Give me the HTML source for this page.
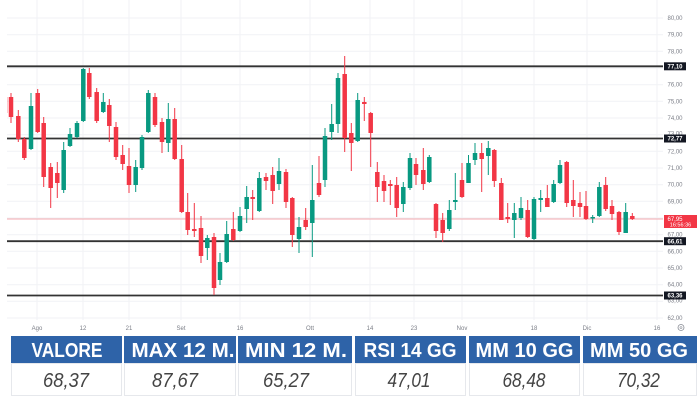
<!DOCTYPE html>
<html><head><meta charset="utf-8"><style>
html,body{margin:0;padding:0;background:#fff;}
svg{display:block;}
</style></head><body>
<svg width="700" height="400" viewBox="0 0 700 400" xmlns="http://www.w3.org/2000/svg">
<rect width="700" height="400" fill="#fff"/>
<defs><clipPath id="cp"><rect x="7" y="0" width="656" height="325"/></clipPath></defs>
<g stroke="#f1f2f5" stroke-width="1">
<path d="M37 0V320M83 0V320M129 0V320M181 0V320M240 0V320M310 0V320M370 0V320M414 0V320M462 0V320M534 0V320M587 0V320M657 0V320"/>
<path d="M7 18H663M7 34.7H663M7 51.3H663M7 68H663M7 84.7H663M7 101.3H663M7 118H663M7 134.7H663M7 151.3H663M7 168H663M7 184.7H663M7 201.3H663M7 218H663M7 234.7H663M7 251.3H663M7 268H663M7 284.7H663M7 301.3H663M7 318H663"/>
</g>
<path d="M7 219H663" stroke="#f4a9b0" stroke-width="1"/>
<path d="M7 66.3H663M7 138.5H663M7 241.2H663M7 295.5H663" stroke="#333" stroke-width="1.8"/>
<g clip-path="url(#cp)">
<path fill="none" stroke="#F23645" stroke-width="1" d="M5 95V116M11 93V123M18.3 110V142M24.3 137V160M37.7 89V133M43.7 117V187M50.7 163V208M57.3 162V198M89.3 68V99M96.7 88V123M109.3 99V142M116 122V160M122.7 145V170M129 148V193M155 93V127M162 118V153M174.7 108V160M181.7 145V213M187.7 193V235M194.3 203V237M201 216V263M214 233V295M233.3 212V241M252.7 190V220M266 173V190M272.7 167V204M286 169V208M292.3 197V247M305.7 208V230M319 156V197M344.7 56V152M351.3 123V171M364.3 97V121M370.7 112V167M377.3 162V202M384 175V202M390.3 180V205M396.7 177V217M416 158V185M423.3 148V190M436 203V238M442.7 213V242M462 163V198M481.7 143V192M494.3 149V187M501.3 178V220M507.7 203V223M527.7 200V238M547.3 185V207M566.7 161V207M573.3 180V217M580 192V217M586 191V220M605.7 177V211M612 200V220M619 211V235M632.3 213V220"/>
<path fill="#F23645" d="M2.75 97h4.5v16h-4.5zM8.75 97h4.5v20h-4.5zM16.05 116h4.5v23h-4.5zM22.05 139h4.5v19h-4.5zM35.45 93h4.5v39h-4.5zM41.45 123h4.5v54h-4.5zM48.45 167h4.5v21h-4.5zM55.05 173h4.5v10h-4.5zM87.05 73h4.5v24h-4.5zM94.45 92h4.5v29h-4.5zM107.05 105h4.5v21h-4.5zM113.75 127h4.5v30h-4.5zM120.45 155h4.5v9h-4.5zM126.75 166h4.5v19h-4.5zM152.75 97h4.5v28h-4.5zM159.75 122h4.5v20h-4.5zM172.45 119h4.5v40h-4.5zM179.45 159h4.5v53h-4.5zM185.45 212h4.5v18h-4.5zM192.05 229h4.5v2h-4.5zM198.75 228h4.5v28h-4.5zM211.75 237h4.5v51h-4.5zM231.05 229h4.5v11h-4.5zM250.45 197h4.5v2h-4.5zM263.75 177h4.5v4h-4.5zM270.45 175h4.5v16h-4.5zM283.75 172h4.5v30h-4.5zM290.05 198h4.5v37h-4.5zM303.45 220h4.5v7h-4.5zM316.75 183h4.5v12h-4.5zM342.45 74h4.5v64h-4.5zM349.05 133h4.5v10h-4.5zM362.05 102h4.5v2h-4.5zM368.45 113h4.5v20h-4.5zM375.05 172h4.5v15h-4.5zM381.75 181h4.5v10h-4.5zM388.05 184h4.5v2h-4.5zM394.45 185h4.5v23h-4.5zM413.75 164h4.5v11h-4.5zM421.05 170h4.5v14h-4.5zM433.75 204h4.5v27h-4.5zM440.45 220h4.5v13h-4.5zM459.75 180h4.5v17h-4.5zM479.45 153h4.5v6h-4.5zM492.05 150h4.5v31h-4.5zM499.05 183h4.5v37h-4.5zM505.45 217h4.5v2h-4.5zM525.45 210h4.5v27h-4.5zM545.05 198h4.5v9h-4.5zM564.45 162h4.5v41h-4.5zM571.05 200h4.5v6h-4.5zM577.75 203h4.5v4h-4.5zM583.75 206h4.5v13h-4.5zM603.45 185h4.5v24h-4.5zM609.75 206h4.5v8h-4.5zM616.75 212h4.5v20h-4.5zM630.05 216h4.5v3h-4.5z"/>
<path fill="none" stroke="#089981" stroke-width="1" d="M31 93V150M63.7 142V193M70 128V147M77 121V138M83.3 68V122M103.3 93V113M135.7 160V192M142 135V170M148.3 90V133M168.3 103V152M207.3 235V260M220 253V285M226.7 221V263M240 207V232M246.7 186V223M259.3 172V212M279 158V190M299 217V253M312.3 165V257M325 128V187M331.7 104V140M338 73V133M357.7 93V142M403.3 182V212M410 153V190M429.3 155V183M449.3 200V231M455.3 173V210M468.5 155V183M475 143V165M488.3 141V175M514.3 203V238M521 197V220M534 197V240M540.7 190V212M553.7 180V203M560 160V184M592.7 215V223M599.3 182V217M625.7 203V233"/>
<path fill="#089981" d="M28.75 106h4.5v43h-4.5zM61.45 150h4.5v40h-4.5zM67.75 134h4.5v12h-4.5zM74.75 123h4.5v14h-4.5zM81.05 69h4.5v52h-4.5zM101.05 102h4.5v10h-4.5zM133.45 167h4.5v18h-4.5zM139.75 137h4.5v31h-4.5zM146.05 93h4.5v39h-4.5zM166.05 119h4.5v24h-4.5zM205.05 238h4.5v10h-4.5zM217.75 262h4.5v18h-4.5zM224.45 234h4.5v28h-4.5zM237.75 216h4.5v15h-4.5zM244.45 197h4.5v12h-4.5zM257.05 178h4.5v33h-4.5zM276.75 171h4.5v13h-4.5zM296.75 227h4.5v12h-4.5zM310.05 200h4.5v23h-4.5zM322.75 136h4.5v44h-4.5zM329.45 124h4.5v8h-4.5zM335.75 78h4.5v46h-4.5zM355.45 100h4.5v41h-4.5zM401.05 187h4.5v17h-4.5zM407.75 158h4.5v30h-4.5zM427.05 157h4.5v25h-4.5zM447.05 210h4.5v19h-4.5zM453.05 200h4.5v2h-4.5zM466.25 163h4.5v20h-4.5zM472.75 153h4.5v7h-4.5zM486.05 148h4.5v8h-4.5zM512.05 213h4.5v7h-4.5zM518.75 208h4.5v10h-4.5zM531.75 199h4.5v40h-4.5zM538.45 198h4.5v2h-4.5zM551.45 184h4.5v18h-4.5zM557.75 165h4.5v18h-4.5zM590.45 217h4.5v1.5h-4.5zM597.05 187h4.5v29h-4.5zM623.45 212h4.5v21h-4.5z"/>
</g>
<g font-family="Liberation Sans, sans-serif" font-size="6" fill="#7b7e87" text-anchor="middle">
<text x="675" y="20">80,00</text>
<text x="675" y="36.7">79,00</text>
<text x="675" y="53.3">78,00</text>
<text x="675" y="86.7">76,00</text>
<text x="675" y="103.3">75,00</text>
<text x="675" y="120">74,00</text>
<text x="675" y="135.7">73,00</text>
<text x="675" y="153.3">72,00</text>
<text x="675" y="170">71,00</text>
<text x="675" y="186.7">70,00</text>
<text x="675" y="203.3">69,00</text>
<text x="675" y="236.7">67,00</text>
<text x="675" y="253.3">66,00</text>
<text x="675" y="270">65,00</text>
<text x="675" y="286.7">64,00</text>
<text x="675" y="302.5">63,00</text>
<text x="675" y="320">62,00</text>
</g>
<rect x="664" y="62.3" width="22" height="8" fill="#131722"/>
<rect x="664" y="134.5" width="22" height="8" fill="#131722"/>
<rect x="664" y="237.2" width="22" height="8" fill="#131722"/>
<rect x="664" y="291.5" width="22" height="8" fill="#131722"/>
<rect x="664" y="215" width="33" height="13" fill="#F23645"/>
<g font-family="Liberation Sans, sans-serif" font-size="6" fill="#fff" text-anchor="middle" font-weight="bold">
<text x="675" y="68.5">77,10</text>
<text x="675" y="140.7">72,77</text>
<text x="675" y="243.4">66,61</text>
<text x="675" y="297.7">63,36</text>
<text x="675" y="220.8" font-weight="normal">67,95</text>
<text x="680.5" y="226.6" font-weight="normal" font-size="5.5">16:56:36</text>
</g>
<g font-family="Liberation Sans, sans-serif" font-size="6" fill="#7b7e87" text-anchor="middle">
<text x="37" y="330">Ago</text>
<text x="83" y="330">12</text>
<text x="129" y="330">21</text>
<text x="181" y="330">Set</text>
<text x="240" y="330">16</text>
<text x="310" y="330">Ott</text>
<text x="370" y="330">14</text>
<text x="414" y="330">23</text>
<text x="462" y="330">Nov</text>
<text x="534" y="330">18</text>
<text x="587" y="330">Dic</text>
<text x="657" y="330">16</text>
</g>
<circle cx="681" cy="327.5" r="3" fill="none" stroke="#8a8d96" stroke-width="0.8"/>
<circle cx="681" cy="327.5" r="1" fill="none" stroke="#8a8d96" stroke-width="0.6"/>
<g fill="#2E63A8">
<rect x="11" y="336" width="111" height="27"/>
<rect x="124" y="336" width="112" height="27"/>
<rect x="238" y="336" width="114" height="27"/>
<rect x="355" y="336" width="111" height="27"/>
<rect x="469" y="336" width="111" height="27"/>
<rect x="583" y="336" width="114" height="27"/>
</g>
<g fill="none" stroke="#e6e8ec" stroke-width="1">
<rect x="11.5" y="363.5" width="110" height="32"/>
<rect x="124.5" y="363.5" width="111" height="32"/>
<rect x="238.5" y="363.5" width="113" height="32"/>
<rect x="355.5" y="363.5" width="110" height="32"/>
<rect x="469.5" y="363.5" width="110" height="32"/>
<rect x="583.5" y="363.5" width="113" height="32"/>
</g>
<g font-family="Liberation Sans, sans-serif" font-size="20" font-weight="bold" fill="#fff" text-anchor="middle">
<text x="67" y="357" textLength="71" lengthAdjust="spacingAndGlyphs">VALORE</text>
<text x="183" y="357" textLength="103" lengthAdjust="spacingAndGlyphs">MAX 12 M.</text>
<text x="296" y="357" textLength="102" lengthAdjust="spacingAndGlyphs">MIN 12 M.</text>
<text x="410" y="357" textLength="93" lengthAdjust="spacingAndGlyphs">RSI 14 GG</text>
<text x="524.5" y="357" textLength="98" lengthAdjust="spacingAndGlyphs">MM 10 GG</text>
<text x="639" y="357" textLength="98" lengthAdjust="spacingAndGlyphs">MM 50 GG</text>
</g>
<g font-family="Liberation Sans, sans-serif" font-size="20" font-style="italic" fill="#444" text-anchor="middle">
<text x="66" y="387" textLength="46" lengthAdjust="spacingAndGlyphs">68,37</text>
<text x="175" y="387" textLength="46" lengthAdjust="spacingAndGlyphs">87,67</text>
<text x="286" y="387" textLength="46" lengthAdjust="spacingAndGlyphs">65,27</text>
<text x="409" y="387" textLength="43" lengthAdjust="spacingAndGlyphs">47,01</text>
<text x="524" y="387" textLength="43" lengthAdjust="spacingAndGlyphs">68,48</text>
<text x="638.5" y="387" textLength="43" lengthAdjust="spacingAndGlyphs">70,32</text>
</g>
</svg>
</body></html>
